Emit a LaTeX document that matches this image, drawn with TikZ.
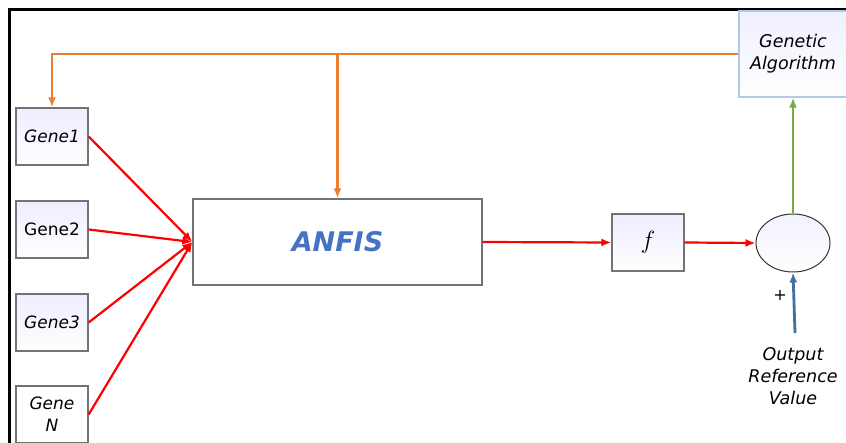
\documentclass[tikz,border=0pt]{standalone}
\usepackage{fontspec}
\setmainfont{DejaVu Sans}
\usetikzlibrary{shapes.geometric,arrows.meta}
\definecolor{orangeGA}{RGB}{237,125,49}
\definecolor{vertGA}{RGB}{112,173,71}
\definecolor{bleuRef}{RGB}{65,113,156}
\definecolor{bleuTexte}{RGB}{68,114,196}
\definecolor{bordGA}{RGB}{180,199,231}
\begin{document}
\begin{tikzpicture}[x=1pt,y=-1pt]
		% Styles
		\tikzstyle{lienRouge}=[-{Latex[length=10pt,width=8pt]},red,line width=2.2pt]
		\tikzstyle{lienOrange}=[-{Latex[length=10pt,width=8pt]},orangeGA,line width=2.2pt]
		\tikzstyle{lienVert}=[-{Latex[length=10pt,width=8pt]},vertGA,line width=2.6pt]
		\tikzstyle{lienBleu}=[-{Latex[length=10pt,width=8pt]},bleuRef,line width=2.8pt]
		\tikzstyle{gene}=[draw=gray!90!black,line width=1.3pt,top color=blue!7!white,bottom color=white,minimum width=72pt,minimum height=57pt,align=center,font=\fontsize{17}{22}\selectfont]
		\tikzstyle{bloc}=[draw=gray!90!black,line width=1.3pt,fill=white,minimum width=289pt,minimum height=86pt]
		\tikzstyle{texte}=[align=center,font=\fontsize{17.5}{22}\selectfont\itshape]
		% Cadre
		\useasboundingbox (0,0) rectangle (846,443);
		\draw[line width=3pt] (9,450) -- (9,10) -- (850,10);
		% Noeuds
		\node[gene] (G1) at (52,136.5) {\itshape Gene1};
		\node[gene] (G2) at (52,229.5) {Gene2};
		\node[gene] (G3) at (52,322.5) {\itshape Gene3};
		\node[gene,fill=white,top color=white] (GN) at (52,414.5) {\itshape Gene\\\itshape N};
		\node[bloc] (ANFIS) at (337.5,242) {\fontsize{27}{30}\selectfont\bfseries\itshape\color{bleuTexte}ANFIS};
		\node[gene] (f) at (648,242.5) {\fontsize{24}{26}\selectfont$f$};
		\node[ellipse,draw=gray!40!black,line width=1pt,top color=blue!5!white,bottom color=white,minimum width=74pt,minimum height=58pt] (S) at (793,243) {};
		\node[draw=bordGA,line width=1.3pt,top color=blue!6!white,bottom color=white,minimum width=108pt,minimum height=86pt,align=center,font=\fontsize{17.5}{22}\selectfont\itshape] (GA) at (793,54) {Genetic\\Algorithm};
		\node[texte] (ORV) at (793,376) {Output\\Reference\\Value};
		\node (plus) at (780,295) {\fontsize{16}{18}\selectfont +};
		\coordinate (ref) at (795,333);
		\coordinate (branche) at (ANFIS.north |- GA.west);
		% Arcs
		\draw[lienOrange] (GA.west) -| (G1.north);
		\draw[lienOrange] (branche) -- (ANFIS.north);
		\draw[lienRouge] (G1.east) -- (ANFIS.west);
		\draw[lienRouge] (G2.east) -- (ANFIS.west);
		\draw[lienRouge] (G3.east) -- (ANFIS.west);
		\draw[lienRouge] (GN.east) -- (ANFIS.west);
		\draw[lienRouge] (ANFIS.east) -- (f.west);
		\draw[lienRouge] (f.east) -- (S.west);
		\draw[lienVert] (S.north) -- (GA.south);
		\draw[lienBleu] (ref) -- (S.south);
\end{tikzpicture}
\end{document}
